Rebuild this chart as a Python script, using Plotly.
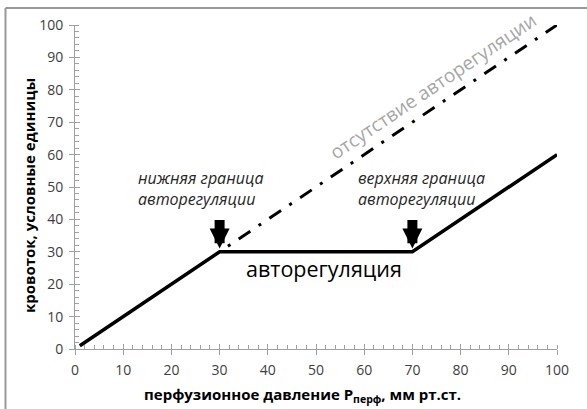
import plotly.graph_objects as go

# --- data ---
pressure = [1, 30, 70, 100]          # perfusion pressure, mm Hg
flow = [1, 30, 30, 60]               # blood flow, arbitrary units
no_auto_pressure = [30, 100]
no_auto_flow = [30, 100]
limits_pressure = [30, 70]           # lower / upper limits of autoregulation
arrow_tip_flow = [31, 31]
arrow_tail_flow = [40.3, 40.3]
tick_vals = [0, 10, 20, 30, 40, 50, 60, 70, 80, 90, 100]

FONT = "Open Sans"
AXIS_GRAY = "#a0a0a0"
TICK_FONT = dict(family=FONT, size=14, color="#404040")

fig = go.Figure()

fig.add_trace(go.Scatter(
    x=no_auto_pressure, y=no_auto_flow, mode="lines",
    line=dict(color="black", width=3, dash="0px,10px,3px,10px,14px,0px"),
    hoverinfo="skip", showlegend=False))

fig.add_trace(go.Scatter(
    x=pressure, y=flow, mode="lines",
    line=dict(color="black", width=3.5),
    hoverinfo="skip", showlegend=False))

# dummy trace for overlay axes (inner half of crossing major ticks)
fig.add_trace(go.Scatter(x=[], y=[], xaxis="x2", yaxis="y2", showlegend=False))

axis_common = dict(
    range=[0, 100], tickvals=tick_vals, showgrid=False, zeroline=False,
    showline=True, linecolor=AXIS_GRAY, linewidth=1,
    ticks="outside", ticklen=5, tickcolor=AXIS_GRAY, tickwidth=1,
    tickfont=TICK_FONT, ticklabelstandoff=3,
    minor=dict(dtick=2, ticks="inside", ticklen=4, tickcolor=AXIS_GRAY, tickwidth=1, showgrid=False),
)

overlay_common = dict(
    range=[0, 100], tickvals=tick_vals, showgrid=False, zeroline=False,
    showline=False, showticklabels=False,
    ticks="inside", ticklen=5, tickcolor=AXIS_GRAY, tickwidth=1,
)

annotations = []
# arrows at the limits of autoregulation
for xp, yt, ytail in zip(limits_pressure, arrow_tip_flow, arrow_tail_flow):
    annotations.append(dict(
        x=xp, y=yt, ax=xp, ay=ytail, xref="x", yref="y", axref="x", ayref="y",
        text="", showarrow=True, arrowhead=2, arrowsize=0.4, arrowwidth=10,
        arrowcolor="black"))

annotations += [
    dict(x=12.66, y=49.4, xref="x", yref="y", xanchor="left", yanchor="middle",
         align="left", showarrow=False,
         text="<i>нижняя граница<br>авторегуляции</i>",
         font=dict(family=FONT, size=16, color="#262626")),
    dict(x=58.3, y=49.4, xref="x", yref="y", xanchor="left", yanchor="middle",
         align="left", showarrow=False,
         text="<i>верхняя граница<br>авторегуляции</i>",
         font=dict(family=FONT, size=16, color="#262626")),
    dict(x=51.7, y=25.0, xref="x", yref="y", xanchor="center", yanchor="middle",
         showarrow=False, text="авторегуляция",
         font=dict(family=FONT, size=21.5, color="black")),
    dict(x=74.3, y=81.2, xref="x", yref="y", xanchor="center", yanchor="middle",
         showarrow=False, text="отсутствие авторегуляции", textangle=-34,
         font=dict(family=FONT, size=19, color="#a6a6a6")),
    # axis titles
    dict(x=0.473, y=-0.142, xref="paper", yref="paper", xanchor="center", yanchor="middle",
         showarrow=False,
         text="<b>перфузионное давление P<sub>перф</sub>, мм рт.ст.</b>",
         font=dict(family=FONT, size=15, color="black")),
    dict(x=-0.0954, y=0.472, xref="paper", yref="paper", xanchor="center", yanchor="middle",
         showarrow=False,
         text="<b>кровоток, условные единицы</b>", textangle=-90,
         font=dict(family=FONT, size=15, color="black")),
]

shapes = [
    dict(type="line", xref="paper", yref="paper", x0=-0.1442, x1=-0.1442, y0=-0.25, y1=1.0525,
         line=dict(color="#999999", width=2)),
    dict(type="line", xref="paper", yref="paper", x0=-0.1442, x1=1.1, y0=1.0525, y1=1.0525,
         line=dict(color="#999999", width=2)),
]

fig.update_layout(
    width=587, height=409,
    margin=dict(l=75, r=30, t=25, b=60),
    paper_bgcolor="white", plot_bgcolor="white",
    xaxis=axis_common,
    yaxis=axis_common,
    xaxis2=dict(overlaying="x", anchor="y", **overlay_common),
    yaxis2=dict(overlaying="y", anchor="x", side="left", **overlay_common),
    annotations=annotations,
    shapes=shapes,
    showlegend=False,
)

fig.write_html("out.html",
               config={"displayModeBar": False, "staticPlot": True},
               post_script="document.body.style.margin='0';document.body.style.padding='0';")
